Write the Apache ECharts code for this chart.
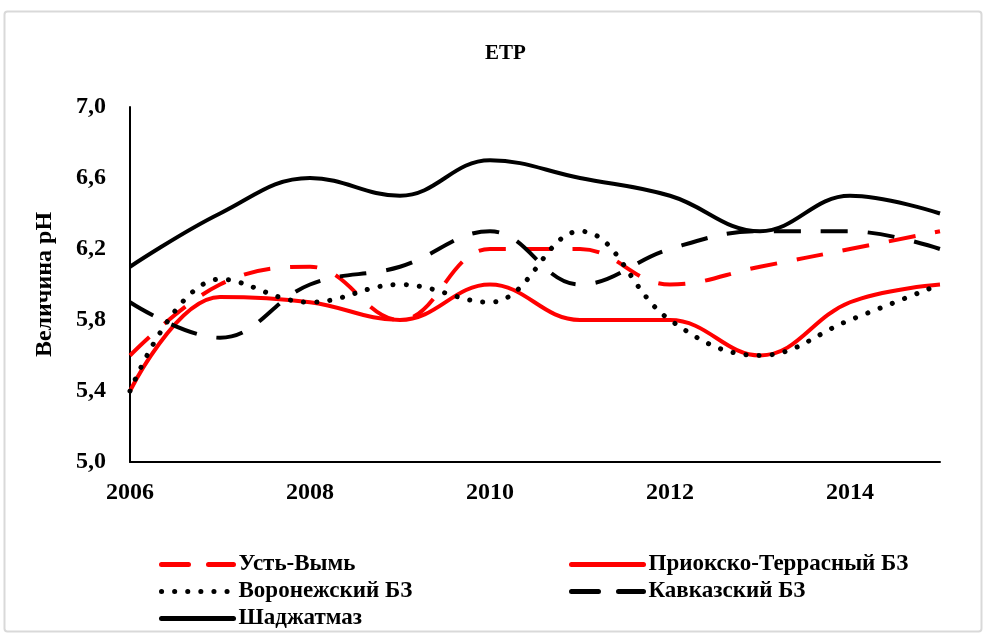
<!DOCTYPE html>
<html>
<head>
<meta charset="utf-8">
<script src="https://cdn.jsdelivr.net/npm/echarts@6/dist/echarts.min.js"></script>
<style>
  html, body { margin: 0; padding: 0; background: #fff; }
  #chart { width: 984px; height: 636px; }
</style>
</head>
<body>
<div id="chart"></div>
<script>
// years on the x axis
const years = ['2006', '2007', '2008', '2009', '2010', '2011', '2012', '2013', '2014', '2015']
// pH values
const ustVym = [5.6, 6.0, 6.1, 5.8, 6.2, 6.2, 6.0, 6.1, 6.2, 6.3]
const priokskoTerrasny = [5.4, 5.93, 5.9, 5.8, 6.0, 5.8, 5.8, 5.6, 5.9, 6.0]
const voronezhsky = [5.4, 6.03, 5.9, 6.0, 5.9, 6.3, 5.8, 5.6, 5.8, 6.0]
const kavkazsky = [5.9, 5.7, 6.0, 6.1, 6.3, 6.0, 6.2, 6.3, 6.3, 6.2]
const shadzhatmaz = [6.1, 6.4, 6.6, 6.5, 6.7, 6.6, 6.5, 6.3, 6.5, 6.4]

const font = '"Liberation Serif", "Times New Roman", serif'

const chart = echarts.init(document.getElementById('chart'))

function line(name, data, color, type, cap, width) {
  return {
    name: name,
    type: 'line',
    data: data,
    smooth: 0.4,
    symbol: 'none',
    lineStyle: { color: color, width: width || 4, type: type, cap: cap || 'butt' },
    itemStyle: { color: color }
  }
}

const legendText = { fontFamily: font, fontSize: 23, fontWeight: 'bold', color: '#000' }
const legendBase = {
  orient: 'vertical',
  top: 548,
  itemWidth: 72,
  itemHeight: 14,
  itemGap: 4,
  textStyle: legendText,
  itemStyle: { opacity: 0 },
  lineStyle: { width: 5, cap: 'round' }
}

chart.setOption({
  animation: false,
  title: {
    text: 'ETP',
    left: 480,
    top: 38,
    textStyle: { fontFamily: font, fontSize: 21, fontWeight: 'bold', color: '#000' }
  },
  graphic: [{
    type: 'rect',
    shape: { x: 4.5, y: 11.5, width: 977, height: 620, r: 3 },
    style: { fill: 'none', stroke: '#d9d9d9', lineWidth: 2 },
    silent: true
  }],
  grid: { left: 130, right: 44, top: 107, bottom: 174 },
  legend: [
    Object.assign({}, legendBase, { left: 154, data: ['Усть-Вымь', 'Воронежский БЗ', 'Шаджатмаз'] }),
    Object.assign({}, legendBase, { left: 564, data: ['Приокско-Террасный БЗ', 'Кавказский БЗ'] })
  ],
  xAxis: {
    type: 'category',
    data: years,
    boundaryGap: false,
    axisLine: { lineStyle: { color: '#000', width: 2 } },
    axisTick: { show: false },
    axisLabel: {
      interval: 1,
      margin: 19,
      fontFamily: font, fontSize: 24, fontWeight: 'bold', color: '#000'
    },
    splitLine: { show: false }
  },
  yAxis: {
    type: 'value',
    min: 5.0,
    max: 7.0,
    interval: 0.4,
    name: 'Величина pH',
    nameLocation: 'middle',
    nameGap: 73,
    nameTextStyle: { fontFamily: font, fontSize: 24, fontWeight: 'bold', color: '#000' },
    axisLine: { show: true, lineStyle: { color: '#000', width: 2 } },
    axisTick: { show: false },
    axisLabel: {
      margin: 24,
      fontFamily: font, fontSize: 24, fontWeight: 'bold', color: '#000',
      formatter: v => v.toFixed(1).replace('.', ',')
    },
    splitLine: { show: false }
  },
  series: [
    line('Усть-Вымь', ustVym, '#ff0000', [27, 20]),
    line('Приокско-Террасный БЗ', priokskoTerrasny, '#ff0000', 'solid'),
    line('Воронежский БЗ', voronezhsky, '#000', [0.1, 13], 'round', 5),
    line('Кавказский БЗ', kavkazsky, '#000', [27, 20]),
    line('Шаджатмаз', shadzhatmaz, '#000', 'solid')
  ]
})
</script>
</body>
</html>
